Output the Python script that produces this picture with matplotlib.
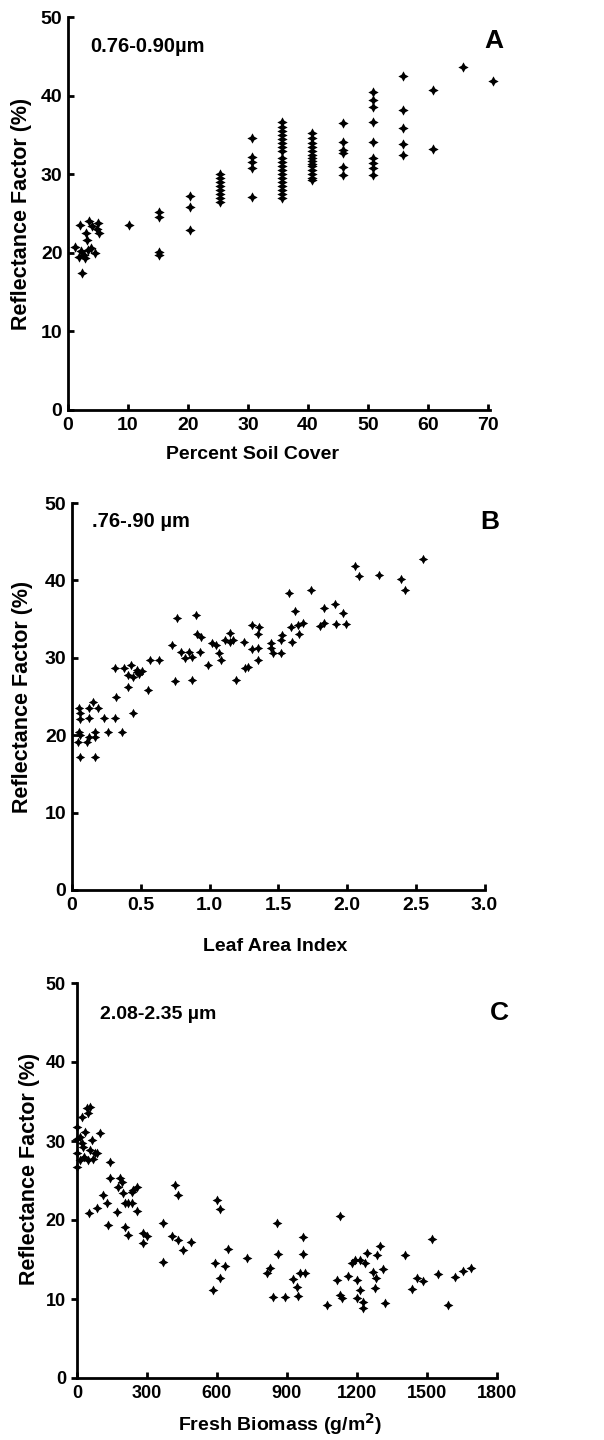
import matplotlib
matplotlib.use("Agg")
import matplotlib.pyplot as plt

plt.rcParams['font.family'] = ['Liberation Sans', 'DejaVu Sans']
plt.rcParams['font.weight'] = 'bold'

# ---------------------------------------------------------------------
# Panel A: reflectance vs percent soil cover (0.76-0.90 um)
soil_cover = [1.2, 2.3, 2.0, 3.0, 3.2, 2.6, 3.4, 4.5, 5.0, 5.2, 4.0, 1.8, 2.8, 3.5, 4.8, 2.2, 3.8,
              10.2,
              15.2, 15.2, 15.2, 15.2,
              20.3, 20.3, 20.3,
              25.3, 25.3, 25.3, 25.3, 25.3, 25.3, 25.3, 25.3,
              30.7, 30.7, 30.7, 30.7, 30.7,
              35.7, 35.7, 35.7, 35.7, 35.7, 35.7, 35.7, 35.7, 35.7, 35.7,
              35.7, 35.7, 35.7, 35.7, 35.7, 35.7, 35.7, 35.7, 35.7,
              40.7, 40.7, 40.7, 40.7, 40.7, 40.7, 40.7, 40.7, 40.7, 40.7, 40.7, 40.7, 40.7, 40.7,
              45.8, 45.8, 45.8, 45.8, 45.8, 45.8,
              50.9, 50.9, 50.9, 50.9, 50.9, 50.9, 50.9, 50.9, 50.9,
              55.9, 55.9, 55.9, 55.9, 55.9,
              60.8, 60.8,
              65.9,
              70.9]
refl_soil = [20.7, 17.4, 23.6, 22.5, 21.6, 19.7, 20.3, 20.0, 23.8, 22.5, 23.4, 19.5, 19.3, 24.0, 23.0, 20.2, 20.6,
             23.5,
             25.2, 24.6, 20.1, 19.7,
             27.2, 25.8, 22.9,
             30.0, 29.5, 29.0, 28.5, 28.0, 27.5, 27.0, 26.5,
             34.6, 32.2, 31.5, 30.8, 27.1,
             36.7, 36.0, 35.5, 35.0, 34.5, 34.0, 33.5, 33.0, 32.0, 31.5,
             31.0, 30.5, 30.0, 29.5, 29.0, 28.5, 28.0, 27.5, 27.0,
             35.3, 34.6, 34.0, 33.5, 33.0, 32.5, 32.0, 31.7, 31.3, 31.0, 30.5, 30.0, 29.5, 29.2,
             36.5, 34.1, 33.1, 32.7, 30.9, 29.9,
             40.5, 39.4, 38.5, 36.6, 34.1, 32.0, 31.4, 30.8, 29.9,
             42.5, 38.2, 35.9, 33.8, 32.4,
             40.7, 33.2,
             43.6,
             41.9]

# Panel B: reflectance vs leaf area index (.76-.90 um)
lai = [2.55, 2.06, 2.09, 2.23, 2.39, 2.42,
       1.74, 1.58, 1.62, 1.83, 1.91, 1.97, 1.99, 1.92, 1.80, 1.83, 1.68,
       1.59, 1.64, 1.65, 1.60, 1.53, 1.52,
       1.45, 1.45, 1.46, 1.52,
       1.31, 1.36, 1.35, 1.35, 1.31, 1.35,
       1.25, 1.26,
       1.15, 1.15, 1.17, 1.11, 1.05, 1.02,
       1.07, 1.08, 0.99,
       0.90, 0.76, 0.91, 0.94,
       0.73, 0.79, 0.85, 0.93, 0.82, 0.87,
       0.57, 0.63,
       0.31, 0.38, 0.43, 0.47, 0.51, 0.41, 0.47, 0.44, 0.49,
       0.41, 0.55, 0.44, 0.32, 0.31, 0.26, 0.36,
       0.75, 0.87, 1.19, 1.28,
       0.05, 0.06, 0.06, 0.12, 0.12, 0.15, 0.19, 0.23, 0.05, 0.06, 0.12, 0.17, 0.17,
       0.04, 0.11, 0.06, 0.17]
refl_lai = [42.8, 41.9, 40.6, 40.7, 40.2, 38.8,
            38.7, 38.4, 36.1, 36.4, 37.0, 35.8, 34.4, 34.4, 34.1, 34.5, 34.5,
            34.0, 34.2, 33.1, 32.0, 32.9, 32.3,
            31.9, 31.3, 30.6, 30.6,
            34.2, 34.0, 33.1, 31.3, 31.1, 29.7,
            32.1, 28.7,
            33.2, 32.1, 32.3, 32.3, 31.7, 31.9,
            30.6, 29.7, 29.1,
            35.5, 35.2, 33.1, 32.7,
            31.7, 30.8, 30.8, 30.8, 30.0, 30.1,
            29.7, 29.7,
            28.7, 28.7, 29.1, 28.4, 28.3, 27.8, 28.2, 27.5, 27.9,
            26.2, 25.8, 22.9, 24.9, 22.2, 20.4, 20.4,
            27.0, 27.1, 27.1, 28.8,
            23.5, 22.9, 22.1, 23.5, 22.2, 24.3, 23.5, 22.2, 20.4, 20.0, 19.8, 20.4, 19.8,
            19.1, 19.1, 17.2, 17.2]

# Panel C: reflectance vs fresh biomass (2.08-2.35 um)
biomass = [0, 0, 0, 0, 13, 26, 13, 47, 21, 56, 43, 64, 99, 86, 56, 47, 69, 77, 34, 20, 30,
           142, 142, 185, 177, 198, 240, 257, 421, 434,
           53, 85, 112, 127, 134, 170, 192, 206, 220, 235, 206, 220, 235, 257, 285, 300, 285,
           371, 371, 407, 434, 456, 489,
           601, 614, 593, 585, 614, 636, 649,
           730,
           816, 829, 842, 859, 863, 893, 928, 945, 949, 958, 980, 971, 971,
           1074, 1117, 1130, 1130, 1138, 1164, 1181, 1194, 1203, 1203, 1216, 1216, 1228, 1228,
           1237, 1246, 1272, 1280, 1284, 1289, 1302, 1315, 1323,
           1409, 1439, 1460, 1486, 1525, 1551, 1594, 1624, 1658, 1692]
refl_biomass = [31.8, 30.2, 28.5, 26.7, 30.5, 29.2, 27.6, 33.5, 33.0, 34.3, 34.2, 30.1, 31.0, 28.5, 28.9,
                27.6, 27.7, 28.5, 31.1, 29.8, 28.0,
                27.3, 25.3, 25.3, 24.2, 23.4, 23.8, 24.2, 24.4, 23.2,
                20.9, 21.5, 23.2, 22.1, 19.4, 21.0, 24.8, 22.1, 22.1, 22.1, 19.1, 18.1, 23.6, 21.2,
                18.3, 18.0, 17.1,
                19.6, 14.7, 18.0, 17.5, 16.2, 17.2,
                22.5, 21.4, 14.5, 11.2, 12.6, 14.2, 16.3,
                15.2,
                13.3, 13.9, 10.3, 19.6, 15.7, 10.3, 12.5, 11.5, 10.4, 13.3, 13.3, 17.8, 15.7,
                9.2, 12.4, 20.5, 10.5, 10.1, 12.9, 14.6, 14.9, 12.4, 10.1, 14.9, 11.1, 9.6, 8.8,
                14.6, 15.8, 13.4, 11.4, 12.6, 15.6, 16.7, 13.8, 9.5,
                15.6, 11.3, 12.6, 12.3, 17.6, 13.2, 9.2, 12.8, 13.5, 13.9]

y_ticks = [0, 10, 20, 30, 40, 50]
soil_ticks = [0, 10, 20, 30, 40, 50, 60, 70]
lai_ticks = [0, 0.5, 1.0, 1.5, 2.0, 2.5, 3.0]
lai_labels = ['0', '0.5', '1.0', '1.5', '2.0', '2.5', '3.0']
biomass_ticks = [0, 300, 600, 900, 1200, 1500, 1800]

W, H = 604, 1440
STAR = (4, 1, 0)  # four-pointed star marker


def add_panel(fig, left, right, top, bottom):
    """Add axes using pixel edges measured from the top-left corner."""
    return fig.add_axes([left / W, 1 - bottom / H, (right - left) / W, (bottom - top) / H])


def style_panel(ax, tick_size, ydir='in'):
    for side in ('top', 'right'):
        ax.spines[side].set_visible(False)
    for side in ('left', 'bottom'):
        ax.spines[side].set_linewidth(2.0)
    ax.tick_params(axis='x', direction='in', length=4, width=2, pad=5, labelsize=tick_size)
    ax.tick_params(axis='y', direction=ydir, length=4, width=2, pad=4, labelsize=tick_size)
    ax.set_ylim(0, 50)
    ax.set_yticks(y_ticks)
    ax.set_ylabel('Reflectance Factor (%)', fontsize=15.5, fontweight='bold')


fig = plt.figure(figsize=(W / 100, H / 100), dpi=100)

# --- A
ax1 = add_panel(fig, 68, 497, 17, 410)
ax1.scatter(soil_cover, refl_soil, marker=STAR, s=55, color='black', linewidths=0, clip_on=False)
ax1.set_xlim(0, 71.5)
ax1.set_xticks(soil_ticks)
style_panel(ax1, 14)
ax1.spines['bottom'].set_bounds(0, 70.4)
ax1.set_xlabel('Percent Soil Cover', fontsize=14, fontweight='bold')
ax1.xaxis.set_label_coords(0.43, -0.092)
ax1.yaxis.set_label_coords(-0.084, 0.5)
ax1.text(0.052, 0.924, '0.76-0.90µm', transform=ax1.transAxes, fontsize=14.5,
         va='center', ha='left')
ax1.text(0.993, 0.939, 'A', transform=ax1.transAxes, fontsize=19, va='center', ha='center')

# --- B
ax2 = add_panel(fig, 72, 490, 503, 890)
ax2.scatter(lai, refl_lai, marker=STAR, s=46, color='black', linewidths=0, clip_on=False)
ax2.set_xlim(0, 3.04)
ax2.set_xticks(lai_ticks)
ax2.set_xticklabels(lai_labels)
style_panel(ax2, 14)
ax2.spines['bottom'].set_bounds(0, 3.0)
ax2.set_xlabel('Leaf Area Index', fontsize=14, fontweight='bold')
ax2.xaxis.set_label_coords(0.487, -0.125)
ax2.yaxis.set_label_coords(-0.093, 0.5)
ax2.text(0.048, 0.951, '.76-.90 µm', transform=ax2.transAxes, fontsize=14.5,
         va='center', ha='left')
ax2.text(1.0, 0.951, 'B', transform=ax2.transAxes, fontsize=19, va='center', ha='center')

# --- C
ax3 = add_panel(fig, 77, 500, 983, 1378)
ax3.scatter(biomass, refl_biomass, marker=STAR, s=50, color='black', linewidths=0, clip_on=False)
ax3.set_xlim(0, 1815)
ax3.set_xticks(biomass_ticks)
style_panel(ax3, 13, ydir='out')
ax3.spines['bottom'].set_bounds(0, 1800)
ax3.set_xlabel('Fresh Biomass (g/m$^\\mathbf{2}$)', fontsize=14, fontweight='bold')
ax3.xaxis.set_label_coords(0.48, -0.085)
ax3.yaxis.set_label_coords(-0.087, 0.53)
ax3.text(0.055, 0.919, '2.08-2.35 µm', transform=ax3.transAxes, fontsize=14,
         va='center', ha='left')
ax3.text(0.998, 0.924, 'C', transform=ax3.transAxes, fontsize=19, va='center', ha='center')

fig.savefig('out.png', dpi=100)
